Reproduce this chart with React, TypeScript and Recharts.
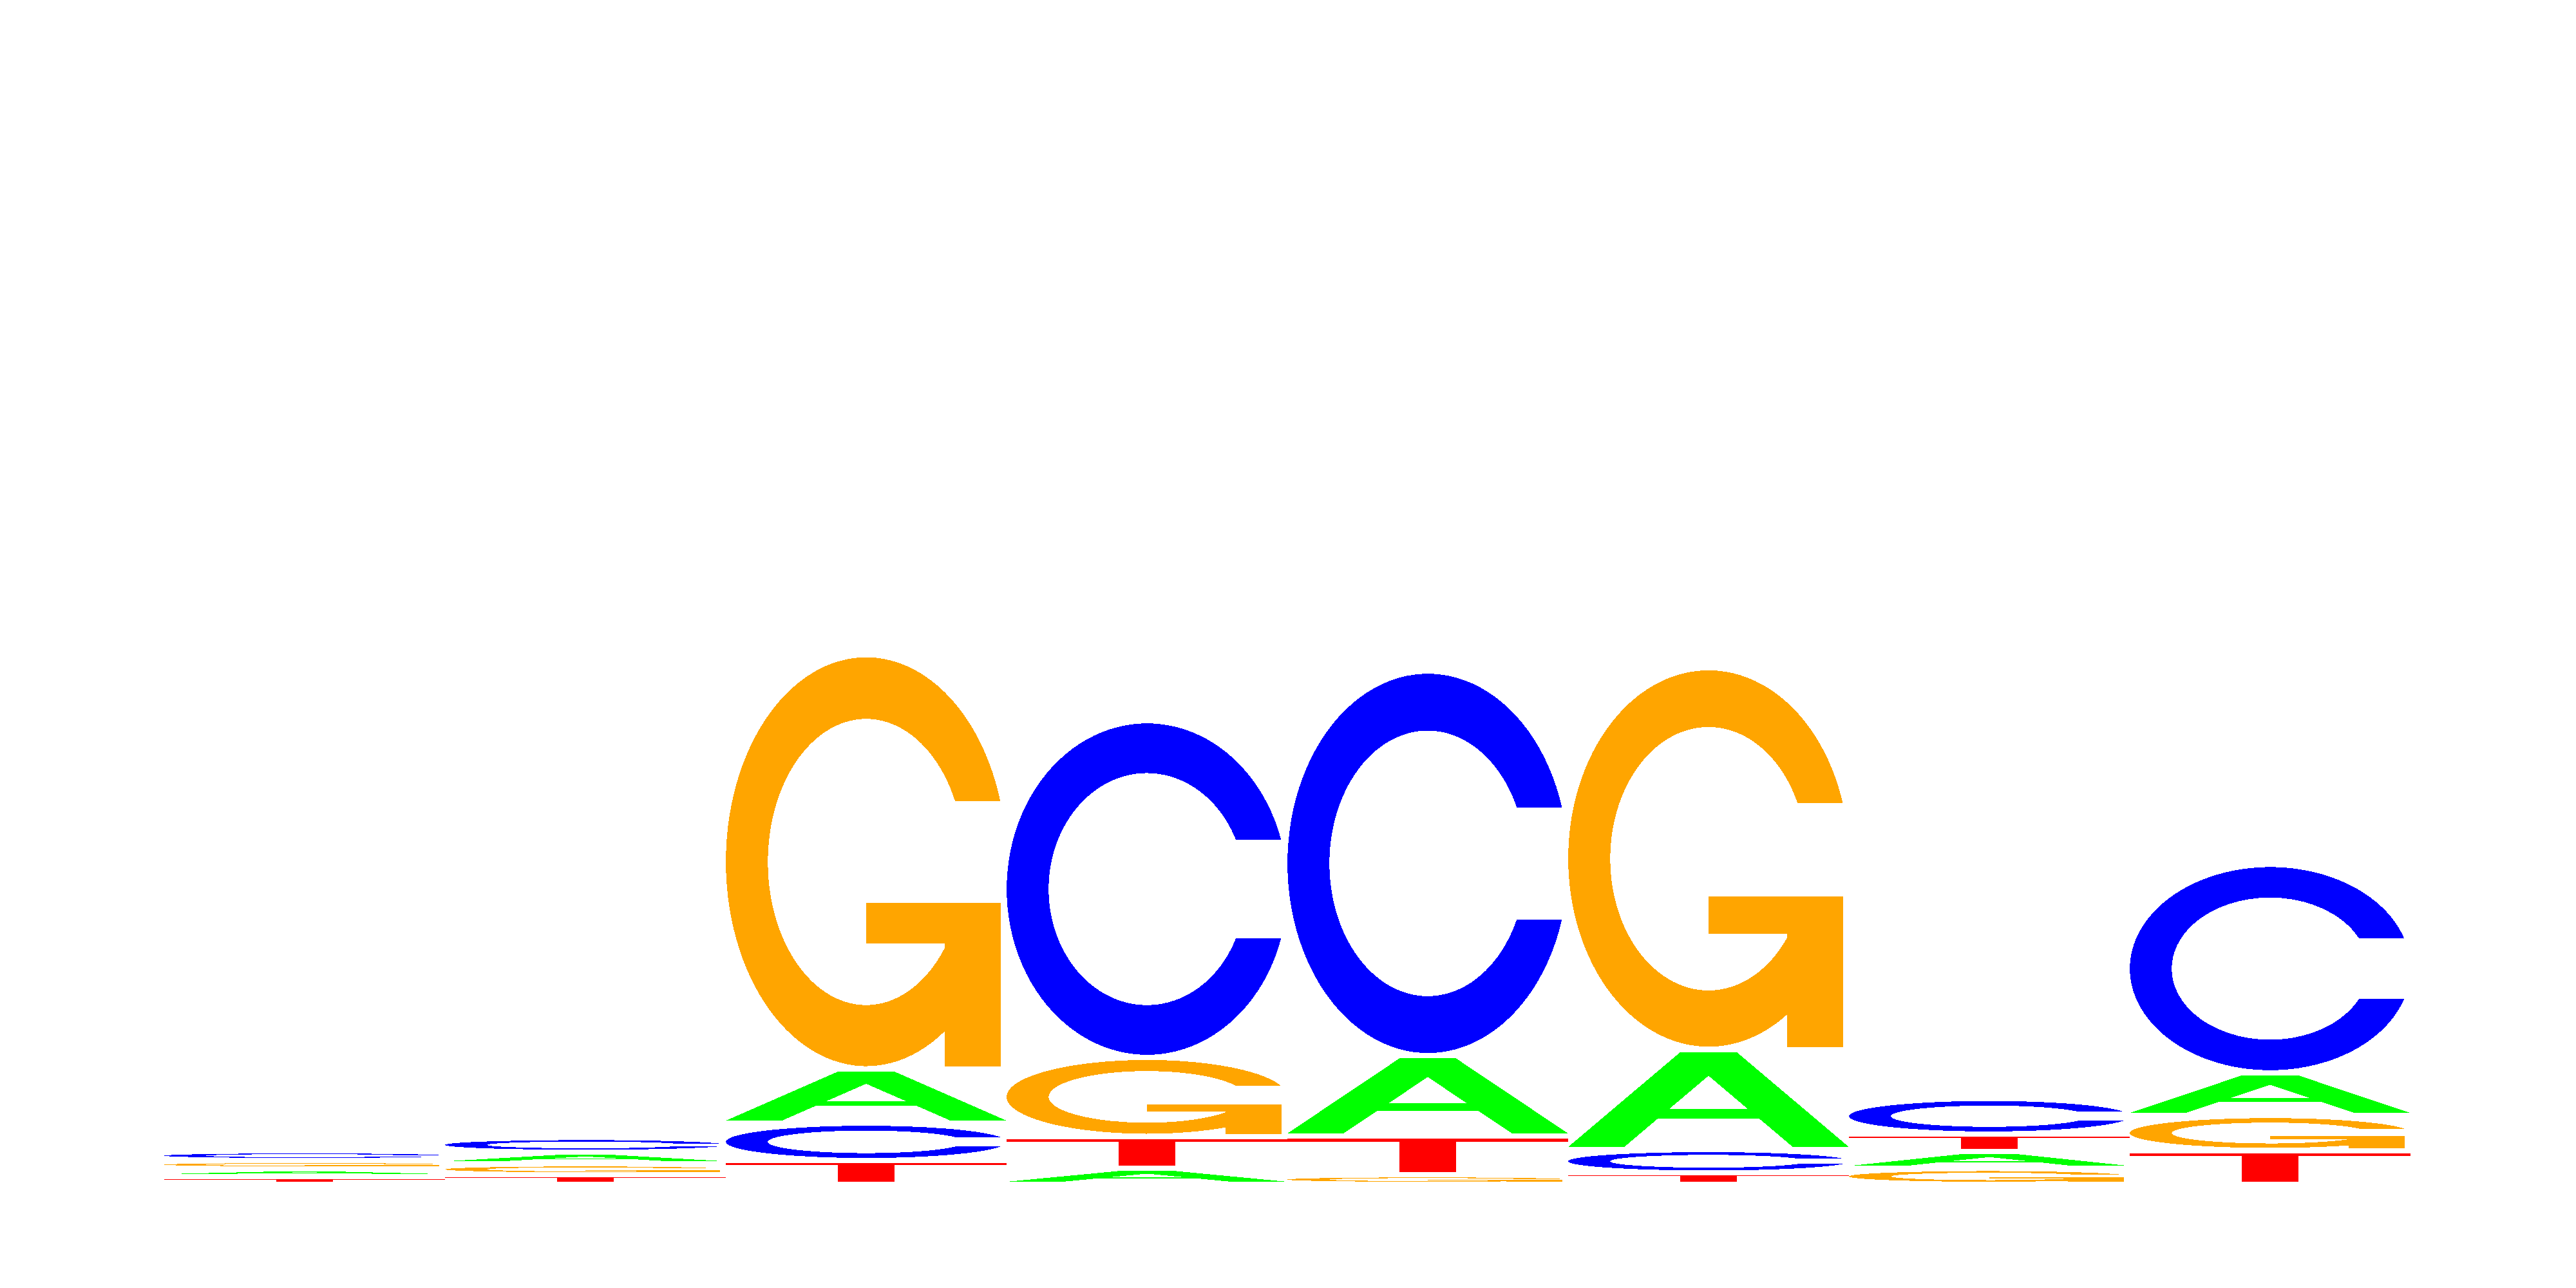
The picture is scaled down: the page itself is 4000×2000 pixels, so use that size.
import { BarChart, Bar, XAxis, YAxis } from 'recharts'

// information content (bits) per position
const positions = ['1', '2', '3', '4', '5', '6', '7', '8']
const bitsA = [0.0045, 0.0109, 0.0831, 0.0182, 0.1273, 0.1607, 0.02, 0.0637]
const bitsC = [0.0076, 0.0163, 0.0545, 0.561, 0.642, 0.031, 0.0515, 0.3438]
const bitsG = [0.0054, 0.0098, 0.692, 0.1249, 0.0073, 0.637, 0.018, 0.0504]
const bitsT = [0.0042, 0.0073, 0.0315, 0.0455, 0.057, 0.0104, 0.021, 0.0485]

const letters = ['A', 'C', 'G', 'T']
const letterBits: Record<string, number[]> = { A: bitsA, C: bitsC, G: bitsG, T: bitsT }

const COLORS: Record<string, string> = {
  A: '#00ff00',
  C: '#0000ff',
  G: '#ffa500',
  T: '#ff0000',
}

// glyphs drawn in a unit box (y down), stretched to each stacked rect
const PATHS: Record<string, string> = {
  A: 'M0,1 L0.4,0 L0.6,0 L1,1 L0.8,1 L0.68,0.7 L0.32,0.7 L0.2,1 Z M0.36,0.6 L0.5,0.25 L0.64,0.6 Z',
  C: 'M0.978,0.352 A0.5,0.5 0 1 0 0.978,0.648 L0.817,0.648 A0.35,0.35 0 1 1 0.817,0.352 Z',
  G: 'M0.978,0.352 A0.5,0.5 0 1 0 0.78,0.914 L0.78,1 L0.98,1 L0.98,0.6 L0.5,0.6 L0.5,0.7 L0.78,0.7 L0.78,0.71 A0.35,0.35 0 1 1 0.817,0.352 Z',
  T: 'M0,0 L1,0 L1,0.1 L0.6,0.1 L0.6,1 L0.4,1 L0.4,0.1 L0,0.1 Z',
}

const GAP = 8

// each column stacked smallest letter at the bottom
const data = positions.map((pos, i) => {
  const sorted = letters
    .map((l) => ({ l, v: letterBits[l][i] }))
    .sort((a, b) => a.v - b.v)
  const row: Record<string, string | number> = { pos }
  sorted.forEach((s, k) => {
    row[`h${k}`] = s.v
    row[`l${k}`] = s.l
  })
  return row
})

function Glyph(props: any) {
  const { x, y, width, height, payload, rank } = props
  const letter = payload[`l${rank}`]
  if (!letter || !height) return null
  return (
    <path
      d={PATHS[letter]}
      fill={COLORS[letter]}
      fillRule="evenodd"
      shapeRendering="crispEdges"
      transform={`translate(${x},${y - rank * GAP}) scale(${width},${height})`}
    />
  )
}

export default function App() {
  return (
    <div style={{ position: 'absolute', left: 0, top: 0, width: 4000, height: 2000, background: '#fff' }}>
      <BarChart
        width={4000}
        height={2000}
        data={data}
        margin={{ top: 0, right: 257, bottom: 165, left: 255 }}
        barCategoryGap={0}
        barGap={0}
      >
        <XAxis dataKey="pos" hide />
        <YAxis hide domain={[0, 2]} allowDataOverflow />
        {[0, 1, 2, 3].map((k) => (
          <Bar
            key={k}
            dataKey={`h${k}`}
            stackId="logo"
            isAnimationActive={false}
            shape={(p: any) => <Glyph {...p} rank={k} />}
          />
        ))}
      </BarChart>
    </div>
  )
}
